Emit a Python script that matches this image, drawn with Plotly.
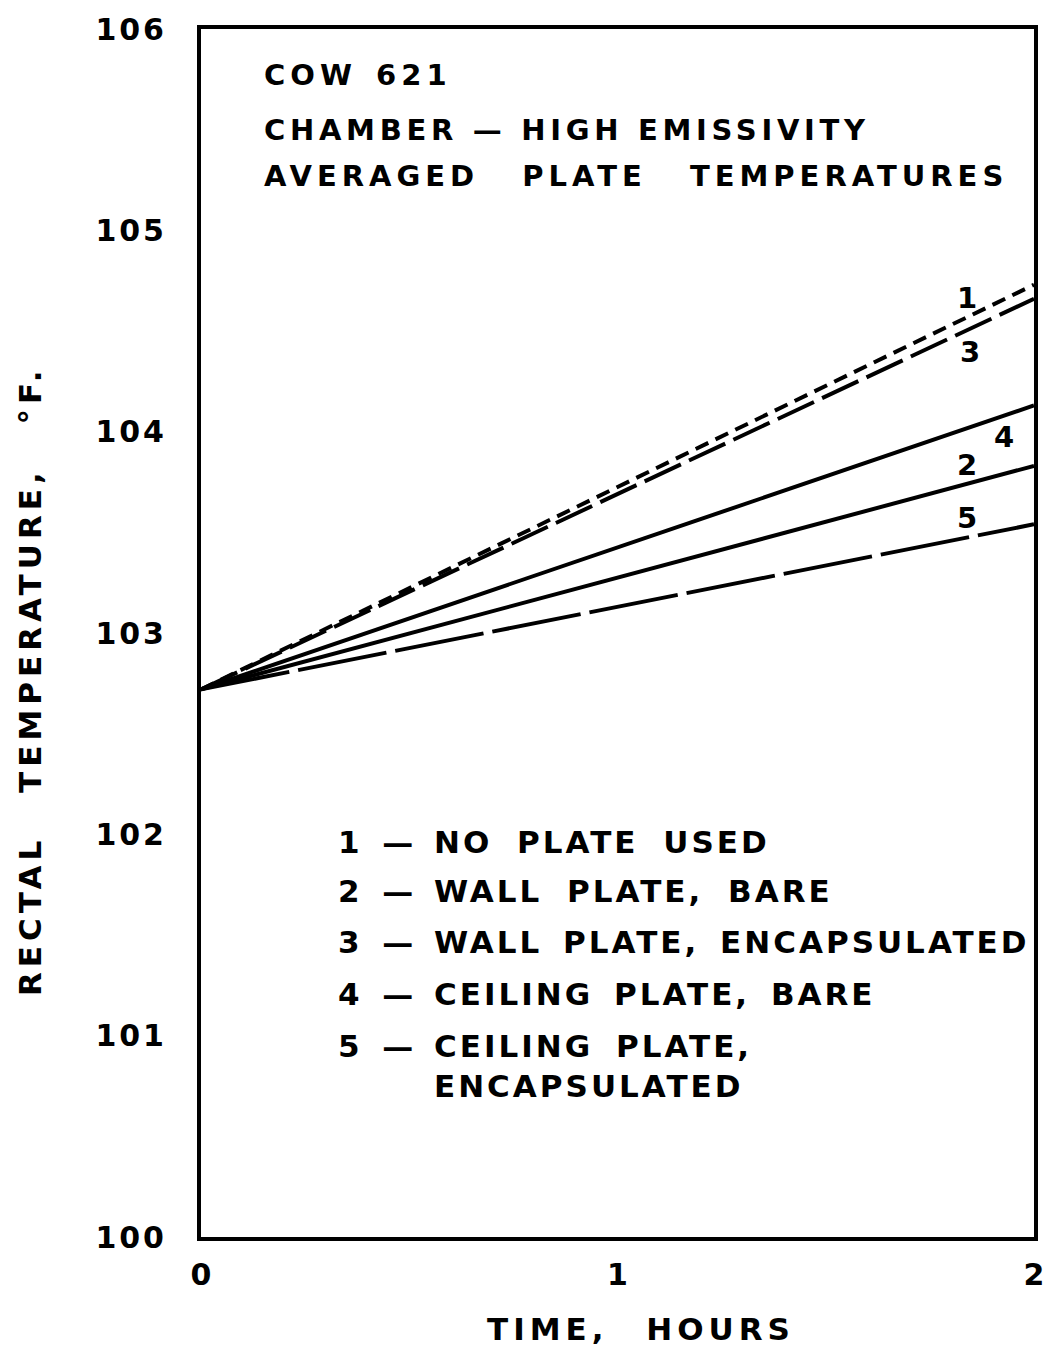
import plotly.graph_objects as go

# ---------------- data ----------------
time_hours = [0, 2]
curve_1 = [102.72, 104.73]   # no plate used
curve_2 = [102.72, 103.83]   # wall plate, bare
curve_3 = [102.72, 104.66]   # wall plate, encapsulated
curve_4 = [102.72, 104.13]   # ceiling plate, bare
curve_5 = [102.72, 103.54]   # ceiling plate, encapsulated

curve_ids = ["1", "2", "3", "4", "5"]
legend_lines = [
    "NO PLATE USED",
    "WALL PLATE, BARE",
    "WALL PLATE, ENCAPSULATED",
    "CEILING PLATE, BARE",
    "CEILING PLATE,",
]
legend_extra = "ENCAPSULATED"

title_lines = ["COW 621", "CHAMBER — HIGH EMISSIVITY", "AVERAGED PLATE TEMPERATURES"]

x_tick_vals = [0, 1, 2]
x_tick_labels = ["0", "1", "2"]
y_tick_vals = [100, 101, 102, 103, 104, 105, 106]
y_tick_labels = ["100", "101", "102", "103", "104", "105", "106"]

x_title = "TIME, HOURS"
y_title = "RECTAL TEMPERATURE, °F."

# ---------------- layout helpers ----------------
W, H = 1045, 1346
L, R, T, B = 201, 1034, 29, 1237
FONT = "DejaVu Sans"


def px_x(px):
    return (px - L) / (R - L)


def px_y(py):
    return (B - py) / (B - T)


def spaced(text, ls, ws=0):
    return f'<span style="letter-spacing:{ls}px;word-spacing:{ws}px">{text}</span>'


annotations = []


def ann(text, x, y, size, xanchor="left", ls=0, ws=0, angle=0):
    annotations.append(dict(
        text="<b>" + spaced(text, ls, ws) + "</b>", x=px_x(x), y=px_y(y),
        xref="paper", yref="paper",
        xanchor=xanchor, yanchor="middle", showarrow=False, textangle=angle,
        font=dict(family=FONT, size=size, color="black"),
    ))


fig = go.Figure()

styles = {
    "1": "14px,8px",
    "2": "solid",
    "3": "40px,9px",
    "4": "solid",
    "5": "90px,9px",
}
for cid, ys in zip(curve_ids, [curve_1, curve_2, curve_3, curve_4, curve_5]):
    fig.add_trace(go.Scatter(
        x=time_hours, y=ys, mode="lines", name=cid,
        line=dict(color="black", width=4, dash=styles[cid]),
        showlegend=False, hoverinfo="skip",
    ))

# header text
ann(title_lines[0], 262, 75, 29, ls=5, ws=4)
ann(title_lines[1], 262, 130, 29, ls=4.7, ws=0)
ann(title_lines[2], 262, 176, 29, ls=5, ws=28)

# curve labels near right end
label_pos = {"1": (967, 298), "3": (970, 352), "4": (1004, 437), "2": (967, 465), "5": (967, 518)}
for cid in curve_ids:
    x, y = label_pos[cid]
    ann(cid, x, y, 29, xanchor="center")

# legend
rows_y = [842, 891, 942, 994, 1046]
rows_ws = [11, 11, 7, 7, 9]
for cid, text, y, ws in zip(curve_ids, legend_lines, rows_y, rows_ws):
    ann(cid + " —", 418, y, 31, xanchor="right", ls=3, ws=6)
    ann(text, 432, y, 31, ls=3, ws=ws)
ann(legend_extra, 432, 1086, 31, ls=3, ws=9)

# axis titles
ann(x_title, 641, 1329, 31, xanchor="center", ls=5, ws=22)
ann(y_title, 30, 681, 31, xanchor="center", ls=5, ws=27, angle=-90)

axis_common = dict(
    showline=True, mirror=True, linecolor="black", linewidth=4,
    showgrid=False, zeroline=False, ticks="", automargin=False,
    ticklabeloverflow="allow",
    tickfont=dict(family=FONT, size=30, color="black"),
)

fig.update_layout(
    width=W, height=H,
    margin=dict(l=L, r=W - R, t=T, b=H - B, autoexpand=False),
    paper_bgcolor="white", plot_bgcolor="white",
    showlegend=False,
    annotations=annotations,
    xaxis=dict(range=[0, 2], tickvals=x_tick_vals,
               ticktext=["<b>" + t + "</b>" for t in x_tick_labels],
               ticklabelstandoff=8, **axis_common),
    yaxis=dict(range=[100, 106], tickvals=y_tick_vals,
               ticktext=["<b>" + spaced(t, 3) + "</b>" for t in y_tick_labels],
               ticklabelstandoff=24, **axis_common),
)

fig.write_html(
    "out.html",
    config={"displayModeBar": False},
    post_script="document.body.style.margin='0';document.body.style.padding='0';",
)
